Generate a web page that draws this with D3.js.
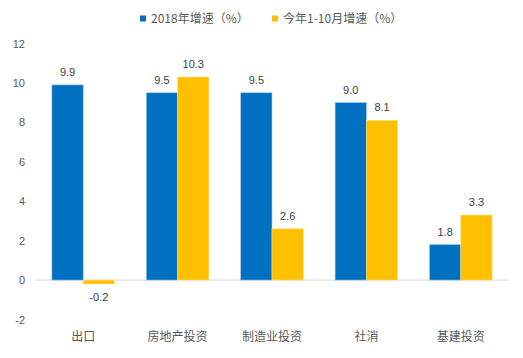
<!DOCTYPE html>
<html><head><meta charset="utf-8">
<script src="https://cdn.jsdelivr.net/npm/d3@7"></script>
<style>body{margin:0;background:#fff}svg{display:block}text{font-family:"Liberation Sans","Noto Sans CJK SC",sans-serif}</style>
</head><body><svg id="c" width="523" height="358"></svg>
<script>
const categories = ["出口","房地产投资","制造业投资","社消","基建投资"];
const seriesNames = ["2018年增速（%）","今年1-10月增速（%）"];
const s2018 = [9.9, 9.5, 9.5, 9.0, 1.8];
const s2019 = [-0.2, 10.3, 2.6, 8.1, 3.3];
const yTicks = [-2,0,2,4,6,8,10,12];
const colors = ["#0070C0","#FFC000"];

const svg = d3.select("#c");
const y = d3.scaleLinear().domain([-2,12]).range([319.5,43.5]);
const x0 = d3.scaleBand().domain(categories).range([36,508]).paddingInner(0.337).paddingOuter(0.1685);
const x1 = d3.scaleBand().domain([0,1]).range([0,x0.bandwidth()]);

// zero line
svg.append("line").attr("x1",36).attr("x2",508).attr("y1",y(0)).attr("y2",y(0))
  .attr("stroke","#D9D9D9").attr("stroke-width",1);

// y axis
const yAxis = d3.axisLeft(y).tickValues(yTicks).tickSize(0).tickPadding(0).tickFormat(d=>String(d));
const gy = svg.append("g").attr("transform","translate(25,0)").call(yAxis);
gy.select(".domain").remove();
gy.selectAll("text").attr("fill","#595959").style("font-size","11px").style("font-family","Liberation Sans, sans-serif");

const series = [s2018, s2019];
series.forEach((vals,si)=>{
  const g = svg.append("g");
  g.selectAll("rect").data(vals).join("rect")
    .attr("x",(d,i)=>x0(categories[i])+x1(si))
    .attr("width",x1.bandwidth())
    .attr("y",d=>y(Math.max(0,d)))
    .attr("height",d=>Math.abs(y(d)-y(0)))
    .attr("fill",colors[si])
    .attr("stroke", si===0 ? "#9DC3E6" : "#FFE08A").attr("stroke-width",0.6);
  g.selectAll("text").data(vals).join("text")
    .attr("x",(d,i)=>x0(categories[i])+x1(si)+x1.bandwidth()/2)
    .attr("y",d=> d>=0 ? y(d)-9 : y(d)+17)
    .attr("text-anchor","middle")
    .attr("fill","#404040").style("font-size","11px")
    .text(d=>d.toFixed(1));
});

// x labels
svg.append("g").selectAll("text").data(categories).join("text")
  .attr("x",d=>x0(d)+x0.bandwidth()/2).attr("y",341)
  .attr("text-anchor","middle").attr("fill","#595959")
  .style("font-size","12px").style("font-family","Noto Sans CJK SC, sans-serif")
  .text(d=>d);

// legend
const lg = svg.append("g");
const legX = [140,272];
seriesNames.forEach((n,i)=>{
  lg.append("rect").attr("x",legX[i]).attr("y",15.5).attr("width",6).attr("height",6).attr("fill",colors[i]);
  lg.append("text").attr("x",legX[i]+11).attr("y",23).attr("fill","#595959")
    .style("font-size","12px").style("font-family","Noto Sans CJK SC, sans-serif").text(n);
});
</script></body></html>
